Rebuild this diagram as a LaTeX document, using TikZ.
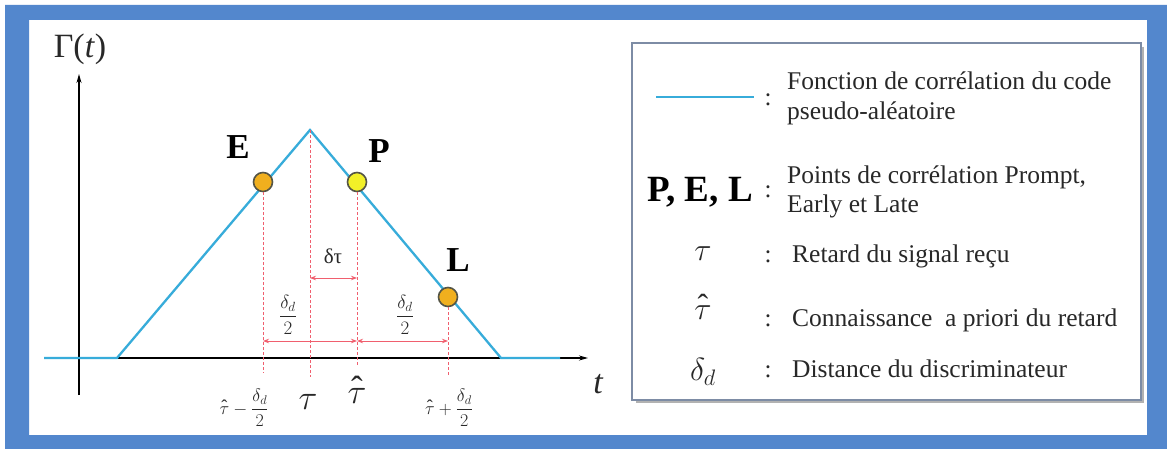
\RequirePackage{fix-cm}
\documentclass[tikz,border=0pt]{standalone}
\usepackage{amsmath}
\usepackage{fontspec}
\setmainfont{Liberation Serif}
\usetikzlibrary{arrows.meta}
\definecolor{frameblue}{RGB}{83,135,205}
\definecolor{curvecyan}{RGB}{55,172,218}
\definecolor{dimred}{RGB}{240,95,110}
\definecolor{txt}{RGB}{40,40,40}
\definecolor{boxedge}{RGB}{125,140,165}
\definecolor{ptorange}{RGB}{240,175,30}
\definecolor{ptyellow}{RGB}{242,240,40}
\definecolor{ptedge}{RGB}{85,85,70}
\newcommand{\fs}[1]{\fontsize{#1}{#1}\selectfont}
\newcommand{\tauhat}{{\ooalign{$\tau$\cr\hidewidth\raisebox{0.1em}{ˆ}\hidewidth\cr}}}
\tikzset{
  axisline/.style={black, line width=1.3pt, -{Stealth[length=9pt,width=5pt]}},
  curve/.style={curvecyan, line width=2.3pt, line join=miter},
  guide/.style={dimred, line width=0.9pt, dash pattern=on 3pt off 2pt},
  dimarrow/.style={dimred, line width=1pt, {Stealth[length=6pt,width=4.5pt]}-{Stealth[length=6pt,width=4.5pt]}},
  corrpt/.style={circle, draw=ptedge, line width=1.6pt, minimum size=19pt, inner sep=0pt},
  ptlabel/.style={font=\fs{35}\bfseries, text=black, inner sep=0pt},
  smalllab/.style={text=txt, inner sep=0pt},
  legtext/.style={font=\fs{25.5}, text=txt, anchor=base west, inner sep=0pt},
  colon/.style={font=\fs{25}, text=txt, inner sep=0pt, anchor=base},
  legsym/.style={font=\fs{32}, text=txt, inner sep=0pt}
}
\begin{document}
\begin{tikzpicture}[x=1pt,y=-1pt]
\useasboundingbox (0,0) rectangle (1167,449);
\fill[white] (0,0) rectangle (1167,449);
% blue frame
\fill[frameblue, even odd rule] (5,5) rectangle (1167,449) (29,20) rectangle (1147,435);
% legend box
\draw[gray!60, line width=2pt] (1143,47) -- (1143,402) -- (636,402);
\draw[boxedge, line width=1.4pt, fill=white] (632,43) rectangle (1141,400);

% ---- plot ----
\coordinate (xs) at (44,358);
\coordinate (xe) at (588,358);
\coordinate (ys) at (79,395);
\coordinate (ye) at (79,74);
\draw[axisline] (xs) -- (xe);
\draw[axisline] (ys) -- (ye);
\node[font=\fs{34}, text=txt, inner sep=0pt] (gam) at (80,49) {Γ(\textit{t})};
\node[font=\fs{34}\itshape, text=txt, inner sep=0pt] (tlab) at (598,384) {t};

\coordinate (c0) at (44,358);
\coordinate (c1) at (117,358);
\coordinate (pk) at (310,130);
\coordinate (c2) at (501,358);
\coordinate (c3) at (560,358);
\draw[curve] (c0) -- (c1) -- (pk) -- (c2) -- (c3);

% guide feet
\coordinate (fe) at (263,373);
\coordinate (ft) at (310,377);
\coordinate (fp) at (357,367);
\coordinate (fl) at (448,376);
% arrow ends
\coordinate (a1) at (310,278);
\coordinate (a2) at (357,278);
\coordinate (b1) at (263,341);
\coordinate (b2) at (357,341);
\coordinate (b3) at (448,341);

\node[corrpt, fill=ptorange] (E) at (263,182) {};
\node[corrpt, fill=ptyellow] (P) at (357,182) {};
\node[corrpt, fill=ptorange] (L) at (448,297) {};

\draw[guide] (E.south) -- (fe);
\draw[guide] (pk) -- (ft);
\draw[guide] (P.south) -- (fp);
\draw[guide] (L.south) -- (fl);

\draw[dimarrow] (a1) -- (a2);
\draw[dimarrow] (b1) -- (b2);
\draw[dimarrow] (b2) -- (b3);

\node[ptlabel] (Elab) at (238,147) {E};
\node[ptlabel] (Plab) at (379,151) {P};
\node[ptlabel] (Llab) at (458,260) {L};

\node[smalllab, font=\fs{21}] (dtau) at (333,256) {δτ};
\node[smalllab, font=\fs{19}] (hd1) at (288,315) {$\dfrac{\delta_d}{2}$};
\node[smalllab, font=\fs{19}] (hd2) at (405,315) {$\dfrac{\delta_d}{2}$};

\node[smalllab, font=\fs{18}] (bl1) at (244,408) {$\mathord{\mbox{\tauhat}}-\dfrac{\delta_d}{2}$};
\node[smalllab, font=\fs{35}] (bl2) at (308,402) {$\tau$};
\node[smalllab, font=\fs{35}] (bl3) at (357,396) {\tauhat};
\node[smalllab, font=\fs{18}] (bl4) at (449,408) {$\mathord{\mbox{\tauhat}}+\dfrac{\delta_d}{2}$};

% ---- legend ----
\coordinate (lg1) at (656,97);
\coordinate (lg2) at (754,97);
\draw[curvecyan, line width=2.2pt] (lg1) -- (lg2);
\node[colon] (k1) at (768,106) {:};
\node[legtext] (t1a) at (787,90) {Fonction de corrélation du code};
\node[legtext] (t1b) at (787,120) {pseudo-aléatoire};

\node[font=\fs{37}\bfseries, text=black, inner sep=0pt] (pel) at (700,192) {P, E, L};
\node[colon] (k2) at (768,197) {:};
\node[legtext] (t2a) at (787,184) {Points de corrélation Prompt,};
\node[legtext] (t2b) at (787,213) {Early et Late};

\node[legsym] (s3) at (703,254) {$\tau$};
\node[colon] (k3) at (768,262) {:};
\node[legtext] (t3) at (792,262) {Retard du signal reçu};

\node[legsym] (s4) at (703,313) {\tauhat};
\node[colon] (k4) at (768,326) {:};
\node[legtext] (t4) at (792,326) {Connaissance\ \ a priori du retard};

\node[legsym] (s5) at (703,372) {$\delta_d$};
\node[colon] (k5) at (768,377) {:};
\node[legtext] (t5) at (792,377) {Distance du discriminateur};
\end{tikzpicture}
\end{document}
